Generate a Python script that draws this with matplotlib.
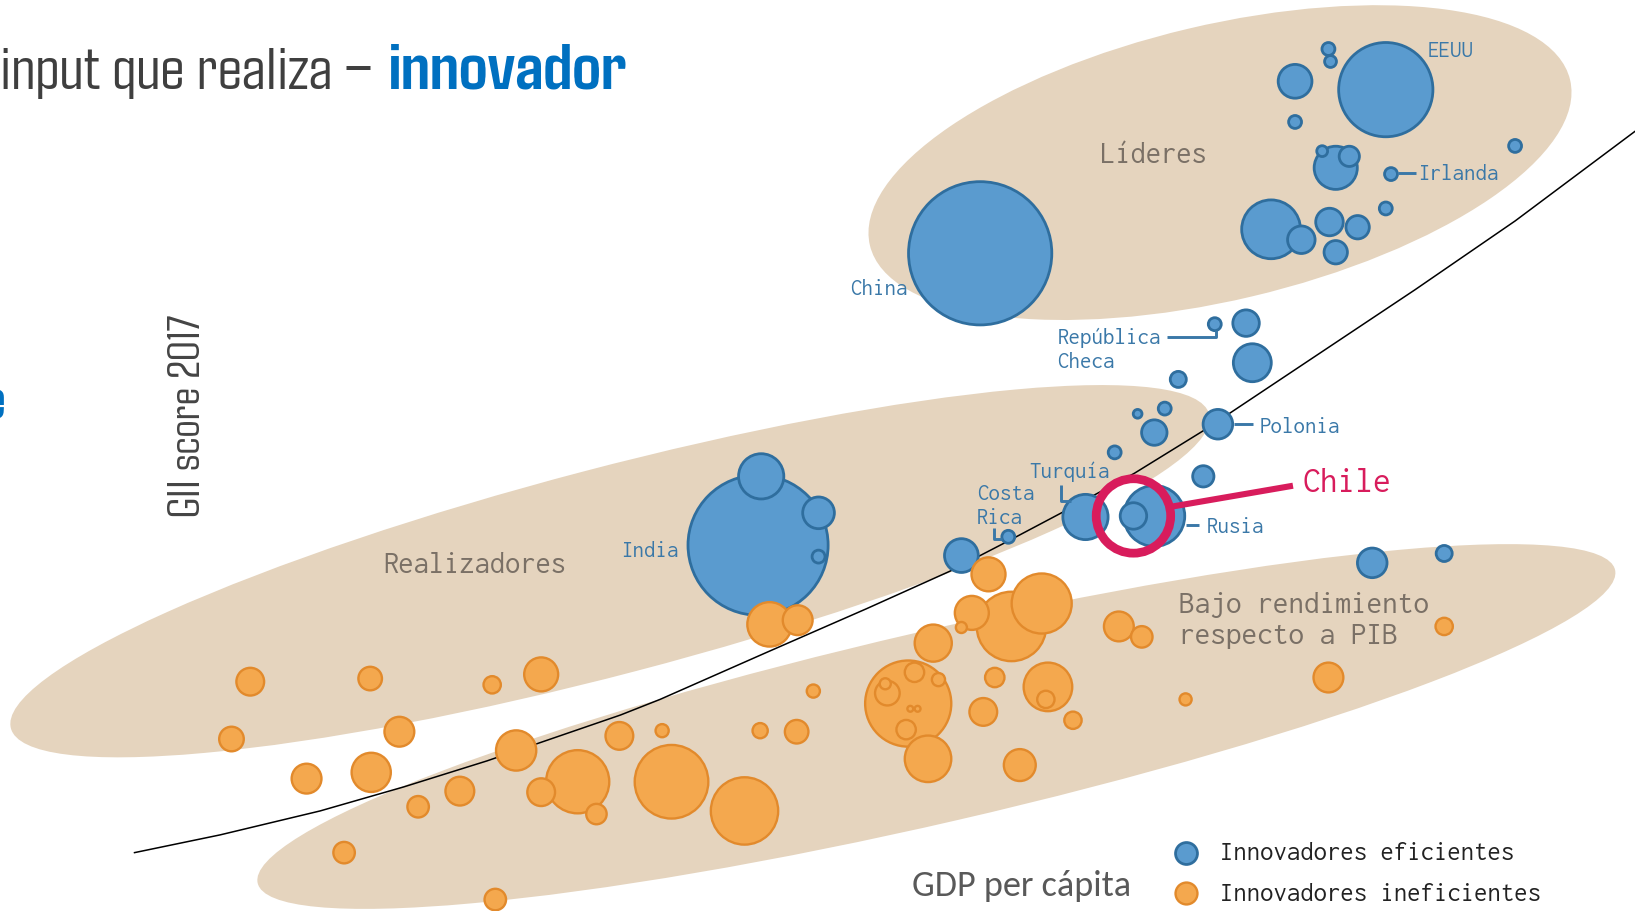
import numpy as np
import matplotlib
matplotlib.use("Agg")
import matplotlib.pyplot as plt
from matplotlib.patches import Ellipse, Circle

# ---------------- data (chart units: GDP per capita index on x, GII position on y, bubble radius) -------------
# Innovadores eficientes (blue)
eff_x = [1274, 1276, 1242, 1329, 1242, 1453, 1281, 1268, 1294, 1334, 1329, 1219, 1248, 1275, 1302, 1281, 940,
         1165, 1195, 1201, 1130, 1091, 1117, 1107, 1168, 1069, 1154, 1041, 1107, 1087, 967, 922, 1316, 1385,
         727, 730, 785, 785]
eff_y = [47, 59, 78, 86, 117, 140, 161, 145, 150, 167, 200, 220, 230, 213, 218, 242, 243,
         311, 310, 348, 364, 397, 392, 415, 407, 434, 457, 496, 495, 495, 515, 533, 540, 531,
         523, 457, 492, 534]
eff_r = [7, 6.5, 17, 46, 7, 7, 21.5, 6, 10.5, 7, 7, 29, 14, 14, 12, 12, 69.5,
         7, 13.5, 19, 8.5, 5, 7, 13, 15, 7, 11, 22.5, 30, 13.5, 7, 17, 15, 8.5,
         68, 22.5, 16, 7]

# Innovadores ineficientes (orange)
ineff_x = [738, 765, 240, 355, 472, 519, 780, 222, 383, 294, 356, 495, 594, 635, 729, 764, 441, 401, 554, 519,
           572, 644, 714, 330, 475,
           948, 999, 970, 932, 922, 895, 1073, 1095, 1385, 871, 877, 851, 849, 900, 869, 873, 880, 890, 954,
           1005, 1003, 943, 1029, 978, 1137, 1274]
ineff_y = [599, 595, 654, 651, 657, 647, 663, 709, 702, 747, 741, 720, 706, 701, 701, 702, 759, 774, 750, 760,
           781, 750, 778, 818, 863,
           551, 579, 601, 588, 602, 617, 601, 611, 601, 675, 645, 665, 656, 652, 700, 680, 680, 728, 650,
           659, 671, 683, 691, 734, 671, 650]
ineff_r = [22, 15, 14, 12, 9, 17, 7, 12.5, 15, 15, 19.5, 20, 14, 7, 8, 12, 14.5, 11, 31, 14,
           10.5, 36, 33, 11, 11,
           17, 29.5, 34, 17, 6, 18.5, 15, 11, 9, 42, 10, 12.5, 6, 7, 10, 3.5, 3.5, 23, 10,
           24, 9, 14, 9, 16, 6.5, 15]

# Trend line (GII expected for a given GDP)
curve_x = [129, 211, 307, 387, 467, 531, 595, 633, 735, 831, 911, 967, 1018, 1088, 1156, 1261, 1357, 1453, 1568]
curve_y = [818, 801, 778, 755, 730, 708, 686, 671, 626, 584, 548, 519, 492, 454, 412, 342, 278, 212, 126]

# Group areas: centre x, centre y, semi-major, semi-minor, tilt (deg)
group_names = ["Líderes", "Realizadores", "Bajo rendimiento\nrespecto a PIB"]
group_cx = [1170, 585, 898]
group_cy = [156, 548, 697]
group_a = [345, 594, 668]
group_b = [132, 99, 92]
group_tilt = [13.3, 14.7, 13.0]
group_label_x = [1055, 368, 1131]
group_label_y = [156, 550, 588]

# Country labels
country_names = ["EEUU", "Irlanda", "China", "República\nCheca", "Polonia", "Turquía", "Costa\nRica", "Rusia", "India"]
country_lx = [1369, 1360, 815, 1014, 1208, 987, 937, 1157, 596]
country_ly = [55, 173, 283, 330, 415, 459, 480, 511, 534]

chile_xy = (1087, 495)

legend_labels = ["Innovadores eficientes", "Innovadores ineficientes"]

# ---------------- styling -------------
W, H = 1568, 874
BEIGE = "#E5D4BE"
BLUE_F, BLUE_E = "#5A9BCF", "#2F6E9E"
ORNG_F, ORNG_E = "#F4A84E", "#E28A2C"
LBL_BLUE = "#3A78A8"
GRAY_LBL = "#7A7066"
PINK = "#D81C5C"
MONO = ["Inconsolata", "DejaVu Sans Mono"]
COND = ["Agdasima", "DejaVu Sans"]

fig = plt.figure(figsize=(16.35, 9.11), dpi=100)
ax = fig.add_axes([0, 0, 1, 1])
ax.set_xlim(0, W)
ax.set_ylim(H, 0)
ax.axis("off")

k = (1635 / W) * 72 / 100  # points per data unit


def msize(r):
    return (2 * np.asarray(r) * k) ** 2


for cx, cy, a, b, t in zip(group_cx, group_cy, group_a, group_b, group_tilt):
    ax.add_patch(Ellipse((cx, cy), 2 * a, 2 * b, angle=-t, facecolor=BEIGE, edgecolor="none", zorder=1))

ax.plot(curve_x, curve_y, color="black", lw=1.1, zorder=2, solid_joinstyle="round")

# white disk inside the Chile highlight
ax.add_patch(Circle(chile_xy, 35.5, facecolor="white", edgecolor="none", zorder=3))

ex, ey, er = map(np.asarray, (eff_x, eff_y, eff_r))
o = np.argsort(-er, kind="stable")
ax.scatter(ex[o], ey[o], s=msize(er[o] - 0.8), facecolor=BLUE_F, edgecolor=BLUE_E, linewidth=2.0, zorder=4)

ix, iy, ir = map(np.asarray, (ineff_x, ineff_y, ineff_r))
o = np.argsort(-ir, kind="stable")
ax.scatter(ix[o], iy[o], s=msize(ir[o] - 0.7), facecolor=ORNG_F, edgecolor=ORNG_E, linewidth=1.7, zorder=5)

# Chile highlight ring + leader
ax.add_patch(Circle(chile_xy, 35.7, facecolor="none", edgecolor=PINK, linewidth=6.3, zorder=6))
ax.plot([1124, 1240], [486, 466], color=PINK, lw=4.4, zorder=6, solid_capstyle="butt")
ax.text(1249, 472, "Chile", family=MONO, fontsize=25.5, color=PINK, va="baseline", ha="left", zorder=8)

# group labels
sizes_grp = [22, 22, 22.5]
for name, x, y, fs in zip(group_names, group_label_x, group_label_y, sizes_grp):
    for j, line in enumerate(name.split("\n")):
        ax.text(x, y + 30 * j, line, family=MONO, fontsize=fs, color=GRAY_LBL, va="baseline", ha="left",
                zorder=8)

# country labels
lab_style = dict(family=MONO, fontsize=16.5, color=LBL_BLUE, ha="left", va="baseline", zorder=8)
for name, x, y in zip(country_names, country_lx, country_ly):
    for j, line in enumerate(name.split("\n")):
        ax.text(x, y + 23 * j, line, **lab_style)

# leader lines
lk = dict(color=LBL_BLUE, lw=2.1, zorder=7, solid_capstyle="butt")
ax.plot([1341, 1358], [166, 166], **lk)                       # Irlanda
ax.plot([1119, 1166, 1166], [323, 323, 317], **lk)            # República Checa
ax.plot([1183, 1202], [407, 407], **lk)                       # Polonia
ax.plot([1018, 1018, 1027], [465, 481, 481], **lk)            # Turquía
ax.plot([953, 953, 961], [507, 517, 517], **lk)               # Costa Rica
ax.plot([1137, 1150], [504, 504], **lk)                       # Rusia

# titles / axis labels
ax.text(0, 85, "input que realiza – ", family=COND, fontsize=46, color="#3F3F3F", va="baseline", ha="left")
ax.text(372, 85, "innovador", family=COND, fontsize=51, fontweight="bold", color="#0070C0",
        va="baseline", ha="left")
ax.text(4, 402, "e", family=COND, fontsize=44, fontweight="bold", color="#0070C0", va="baseline", ha="right")
ax.text(181, 399, "GII score 2017", family=COND, fontsize=33, color="#444444", rotation=90,
        va="center", ha="center")
ax.text(875, 860, "GDP per cápita", family=["Carlito", "DejaVu Sans"], fontsize=26, color="#595959",
        va="baseline", ha="left")

# legend
ax.scatter([1137], [818], s=msize(10.5), facecolor=BLUE_F, edgecolor=BLUE_E, linewidth=2.0, zorder=8)
ax.scatter([1137], [857], s=msize(10.5), facecolor=ORNG_F, edgecolor=ORNG_E, linewidth=1.7, zorder=8)
ax.text(1170, 825, legend_labels[0], family=MONO, fontsize=19.3, color="#222222", va="baseline", ha="left")
ax.text(1170, 864, legend_labels[1], family=MONO, fontsize=19.3, color="#222222", va="baseline", ha="left")

fig.savefig("out.png", dpi=100)
